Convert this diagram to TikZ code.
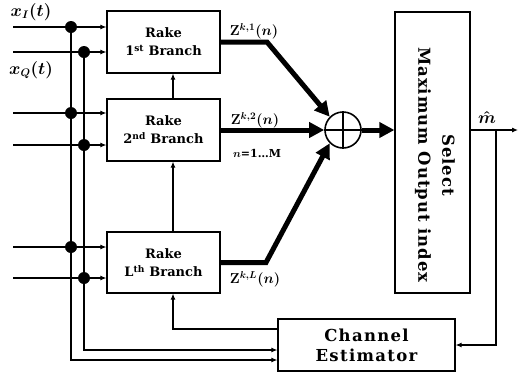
\documentclass[tikz,border=0pt]{standalone}
\usepackage{fontspec}
\setmainfont{DejaVu Serif}
\usetikzlibrary{arrows.meta,calc}
\begin{document}
\begin{tikzpicture}[x=1pt,y=-1pt,
  box/.style={draw,line width=1.2pt,inner sep=0pt,align=center,font=\bfseries\fontsize{13}{18}\selectfont},
  ln/.style={line width=1.1pt},
  arr/.style={ln,-{Latex[length=6pt,width=5pt]}},
  thickarr/.style={line width=5pt,line join=miter,-{Triangle[length=15pt,width=15pt]}},
  dot/.style={circle,fill,inner sep=0pt,minimum size=12pt},
  lbl/.style={inner sep=0pt,font=\bfseries\boldmath\fontsize{14.5}{16}\selectfont}
]
\useasboundingbox (0,0) rectangle (524,373);
% boxes
\node[box,minimum width=113pt,minimum height=62pt] (b1) at (163.5,42) {Rake\\1\textsuperscript{st} Branch};
\node[box,minimum width=113pt,minimum height=62pt] (b2) at (163.5,130) {Rake\\2\textsuperscript{nd} Branch};
\node[box,minimum width=113pt,minimum height=61pt] (bL) at (163.5,262.5) {Rake\\L\textsuperscript{th} Branch};
\node[box,minimum width=75pt,minimum height=281pt] (sel) at (432.5,152.5) {};
\node[inner sep=0pt,rotate=-90,align=center,font=\bfseries\fontsize{16.5}{24}\selectfont\addfontfeature{LetterSpace=6}] (seltext) at (435,165) {Select\\Maximum Output index};
\node[box,minimum width=177pt,minimum height=52pt,font=\bfseries\fontsize{16.5}{20}\selectfont\addfontfeature{LetterSpace=8}] (ce) at (366.5,345) {Channel\\Estimator};
\node[circle,draw,line width=1.6pt,minimum size=36pt,inner sep=0pt] (sum) at (343,130) {};
\draw[line width=1.6pt] (sum.north) -- (sum.south) (sum.west) -- (sum.east);
% labels
\node[lbl,font=\bfseries\boldmath\fontsize{16}{18}\selectfont] (xi) at (31,12) {$x_I(t)$};
\node[lbl,font=\bfseries\boldmath\fontsize{16}{18}\selectfont] (xq) at (31,70) {$x_Q(t)$};
\node[lbl] (z1) at (254,31) {$\mathbf{Z}^{k,1}(n)$};
\node[lbl] (z2) at (255,120) {$\mathbf{Z}^{k,2}(n)$};
\node[lbl,font=\bfseries\boldmath\fontsize{11}{12}\selectfont] (nm) at (257,153) {$n$=1\ldots M};
\node[lbl] (zL) at (255,279) {$\mathbf{Z}^{k,L}(n)$};
\node[lbl,anchor=south,font=\bfseries\boldmath\fontsize{18}{18}\selectfont] (mh) at (487,124) {$\hat{m}$};
% input coordinates
\coordinate (i1) at (13,27);
\coordinate (i2) at (13,52);
\coordinate (i3) at (13,113);
\coordinate (i4) at (13,145);
\coordinate (i5) at (13,247);
\coordinate (i6) at (13,278);
\coordinate (y329) at (0,329);
\coordinate (y350) at (0,350);
\coordinate (y360) at (0,360);
\coordinate (tap) at (496,130);
\coordinate (out) at (518,130);
\coordinate (kink1) at (267,42);
\coordinate (kinkL) at (266,262.5);
% dots
\node[dot] (d1) at (71,27) {};
\node[dot] (d2) at (84,52) {};
\node[dot] (d3) at (71,113) {};
\node[dot] (d4) at (84,145) {};
\node[dot] (d5) at (71,247) {};
\node[dot] (d6) at (84,278) {};
% inputs
\draw[arr] (i1) -- (i1 -| b1.west);
\draw[arr] (i2) -- (i2 -| b1.west);
\draw[arr] (i3) -- (i3 -| b2.west);
\draw[arr] (i4) -- (i4 -| b2.west);
\draw[arr] (i5) -- (i5 -| bL.west);
\draw[arr] (i6) -- (i6 -| bL.west);
\draw[arr] (d1.center) |- (ce.west |- y360);
\draw[arr] (d2.center) |- (ce.west |- y350);
% chain
\draw[arr] ($(bL.north)+(9.5,0)$) -- ($(b2.south)+(9.5,0)$);
\draw[arr] ($(b2.north)+(9.5,0)$) -- ($(b1.south)+(9.5,0)$);
\draw[arr] (ce.west |- y329) -| ($(bL.south)+(9.5,0)$);
% thick outputs
\draw[thickarr] (b1.east) -- (kink1) -- (sum.135);
\draw[thickarr] (b2.east) -- (sum.west);
\draw[thickarr] (bL.east) -- (kinkL) -- (sum.225);
\draw[thickarr] (sum.east) -- (sum.east -| sel.west);
% output
\draw[arr] (sel.east |- tap) -- (out);
\draw[arr] (tap) |- (ce.east);
\end{tikzpicture}
\end{document}
